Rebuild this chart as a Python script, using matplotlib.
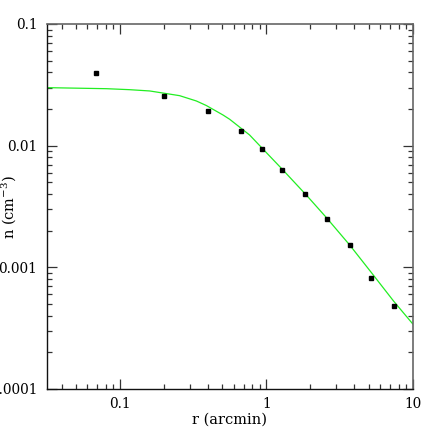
import numpy as np

import matplotlib as mpl
mpl.use("Agg")
import matplotlib.pyplot as plt
from matplotlib.ticker import LogLocator, FixedLocator, FixedFormatter, NullFormatter


# measured density profile
r_data = [0.0684, 0.199, 0.402, 0.668, 0.929, 1.29, 1.83, 2.61, 3.72, 5.23, 7.43]
n_data = [0.0396, 0.0255, 0.0193, 0.0132, 0.0094, 0.0063, 0.0040, 0.0025,
          0.00154, 0.00082, 0.00048]

# fitted model curve
r_fit = [0.0318, 0.0809, 0.1166, 0.160, 0.256, 0.333, 0.389, 0.506, 0.562,
         0.769, 0.948, 1.298, 1.875, 2.568, 3.704, 5.233, 7.43, 10.0]
n_fit = [0.02997, 0.02939, 0.02884, 0.02815, 0.02575, 0.02329, 0.02139,
         0.01787, 0.01648, 0.01224, 0.00939, 0.00632, 0.00393, 0.00257,
         0.00153, 0.000902, 0.000525, 0.000343]

xticks = [0.1, 1, 10]
xticklabels = ["0.1", "1", "10"]
yticks = [0.0001, 0.001, 0.01, 0.1]
yticklabels = ["0.0001", "0.001", "0.01", "0.1"]


def main():
    mpl.rcParams.update({
        "font.family": "serif",
        "font.serif": ["DejaVu Serif"],
        "font.size": 9.8,
        "axes.labelsize": 10.5,
        "mathtext.fontset": "dejavuserif",
    })

    fig = plt.figure(figsize=(4.36, 4.36), dpi=100)
    ax = fig.add_axes([0.1078, 0.1078, 0.8388, 0.8372])

    ax.plot(r_fit, n_fit, color="#22ee22", lw=0.9, zorder=2)
    ax.plot(r_data, n_data, ls="none", marker="s", ms=3.2, color="black",
            mec="black", zorder=3)

    ax.set_xscale("log")
    ax.set_yscale("log")
    ax.set_xlim(0.0318, 10)
    ax.set_ylim(0.0001, 0.1)

    ax.xaxis.set_major_locator(FixedLocator(xticks))
    ax.xaxis.set_major_formatter(FixedFormatter(xticklabels))
    ax.yaxis.set_major_locator(FixedLocator(yticks))
    ax.yaxis.set_major_formatter(FixedFormatter(yticklabels))
    for axis in (ax.xaxis, ax.yaxis):
        axis.set_minor_locator(LogLocator(base=10, subs=np.arange(2, 10)))
        axis.set_minor_formatter(NullFormatter())

    ax.tick_params(which="both", direction="in", top=True, right=True,
                   color="#333333", width=0.9)
    ax.tick_params(which="major", length=7, pad=6)
    ax.tick_params(which="minor", length=3.5)
    ax.tick_params(axis="y", which="major", pad=7)

    for side in ("left", "bottom"):
        ax.spines[side].set_color("#111111")
        ax.spines[side].set_linewidth(1.0)
    for side in ("top", "right"):
        ax.spines[side].set_color("#666666")
        ax.spines[side].set_linewidth(1.2)

    ax.set_xlabel("r (arcmin)", labelpad=1)
    ax.set_ylabel("n (cm$^{-3}$)")
    ax.yaxis.set_label_coords(-0.078, 0.5)

    fig.savefig("out.png", dpi=100)


if __name__ == "__main__":
    main()
